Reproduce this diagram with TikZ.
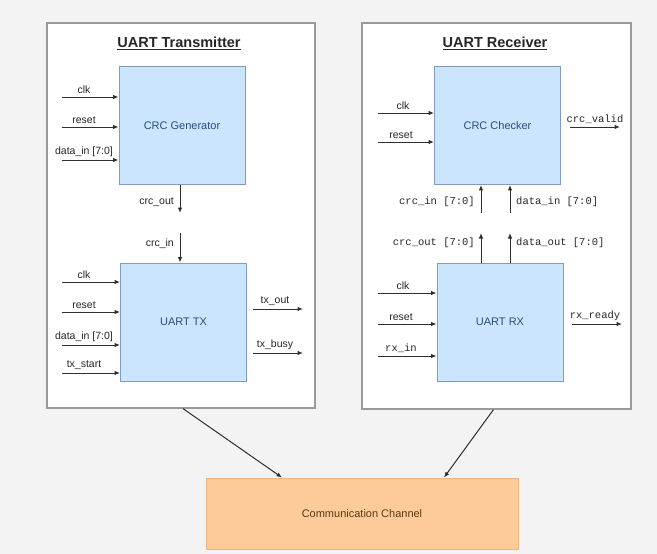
\documentclass[tikz,border=0pt]{standalone}
\usepackage{fontspec}
\setmainfont{Liberation Sans}
\setmonofont{Liberation Mono}
\usetikzlibrary{arrows.meta,calc}

\definecolor{bgcol}{HTML}{F3F3F3}
\definecolor{panelline}{HTML}{9A9A9A}
\definecolor{blockfill}{HTML}{CCE5FF}
\definecolor{blockline}{HTML}{7F9CC0}
\definecolor{blocktext}{HTML}{2B4C7E}
\definecolor{chanfill}{HTML}{FDCB9A}
\definecolor{chanline}{HTML}{E9B482}
\definecolor{chantext}{HTML}{5C3A12}
\definecolor{wire}{HTML}{2E2E2E}

\tikzset{
  panel/.style={rectangle, draw=panelline, line width=1.2pt, fill=white, inner sep=0pt},
  block/.style={rectangle, draw=blockline, line width=0.9pt, fill=blockfill, text=blocktext,
    font=\fontsize{11}{13}\selectfont, minimum width=126pt, minimum height=118pt, inner sep=0pt},
  chan/.style={rectangle, draw=chanline, line width=0.9pt, fill=chanfill, text=chantext,
    font=\fontsize{11}{13}\selectfont, minimum width=312pt, minimum height=71pt, inner sep=0pt},
  sig/.style={draw=wire, line width=1pt, -{Latex[length=5.5pt,width=4.5pt]}},
  lbl/.style={font=\fontsize{10.5}{12}\selectfont, text=black!85, inner sep=1pt},
  mlbl/.style={font=\ttfamily\fontsize{10.5}{12}\selectfont, text=black!85, inner sep=1pt},
  ptitle/.style={font=\bfseries\fontsize{14.5}{17}\selectfont, text=black!85},
}

\begin{document}
\begin{tikzpicture}[x=1pt,y=-1pt]
  % canvas
  \fill[bgcol] (0,0) rectangle (657,554);
  \useasboundingbox (0,0) rectangle (657,554);

  % ---------------- panels ----------------
  \node[panel, minimum width=268pt, minimum height=385pt] (lp) at (181,215.5) {};
  \node[panel, minimum width=269pt, minimum height=386pt] (rp) at (496.5,216) {};
  \node[ptitle] (lpt) at (179,43) {\underline{UART Transmitter}};
  \node[ptitle] (rpt) at (495,43) {\underline{UART Receiver}};

  % ---------------- transmitter ----------------
  \node[block] (gen) at (182,125.5) {CRC Generator};
  \node[block] (tx) at (183.5,322) {UART TX};

  % CRC generator inputs
  \coordinate (g1) at (62,97);
  \coordinate (g2) at (62,127);
  \coordinate (g3) at (62,160);
  \draw[sig] (g1) -- (g1 -| gen.west);
  \draw[sig] (g2) -- (g2 -| gen.west);
  \draw[sig] (g3) -- (g3 -| gen.west);
  \node[lbl, anchor=south] (g1l) at (84,95) {clk};
  \node[lbl, anchor=south] (g2l) at (84,125) {reset};
  \node[lbl, anchor=south] (g3l) at (84,158) {data\_in [7:0]};

  % CRC hand-over between generator and transmitter
  \coordinate (co) at (180,213);
  \coordinate (ci) at (180,233);
  \draw[sig] (co |- gen.south) -- (co);
  \draw[sig] (ci) -- (ci |- tx.north);
  \node[lbl, anchor=east] (col) at (175,202) {crc\_out};
  \node[lbl, anchor=east] (cil) at (175,244) {crc\_in};

  % UART TX inputs
  \coordinate (t1) at (62,282);
  \coordinate (t2) at (62,312);
  \coordinate (t3) at (62,345);
  \coordinate (t4) at (62,373);
  \draw[sig] (t1) -- (t1 -| tx.west);
  \draw[sig] (t2) -- (t2 -| tx.west);
  \draw[sig] (t3) -- (t3 -| tx.west);
  \draw[sig] (t4) -- (t4 -| tx.west);
  \node[lbl, anchor=south] (t1l) at (84,280) {clk};
  \node[lbl, anchor=south] (t2l) at (84,310) {reset};
  \node[lbl, anchor=south] (t3l) at (84,343) {data\_in [7:0]};
  \node[lbl, anchor=south] (t4l) at (84,371) {tx\_start};

  % UART TX outputs
  \coordinate (to1a) at (253,309);
  \coordinate (to1b) at (303,309);
  \coordinate (to2a) at (253,353);
  \coordinate (to2b) at (303,353);
  \draw[sig] (to1a) -- (to1b);
  \draw[sig] (to2a) -- (to2b);
  \node[lbl, anchor=south] (to1l) at (275,307) {tx\_out};
  \node[lbl, anchor=south] (to2l) at (275,351) {tx\_busy};

  % ---------------- receiver ----------------
  \node[block] (chk) at (497.5,125.5) {CRC Checker};
  \node[block] (rx) at (500,322) {UART RX};

  % CRC checker inputs
  \coordinate (c1) at (378,113);
  \coordinate (c2) at (378,142);
  \draw[sig] (c1) -- (c1 -| chk.west);
  \draw[sig] (c2) -- (c2 -| chk.west);
  \node[lbl, anchor=south] (c1l) at (403,111) {clk};
  \node[lbl, anchor=south] (c2l) at (401,140) {reset};

  % CRC checker output
  \coordinate (cva) at (570,127);
  \coordinate (cvb) at (620,127);
  \draw[sig] (cva) -- (cvb);
  \node[mlbl, anchor=south] (cvl) at (595,125) {crc\_valid};

  % buses between receiver and checker
  \coordinate (ri1) at (481,213);
  \coordinate (ri2) at (510,213);
  \coordinate (ro1) at (481,233);
  \coordinate (ro2) at (510,233);
  \draw[sig] (ri1) -- (ri1 |- chk.south);
  \draw[sig] (ri2) -- (ri2 |- chk.south);
  \draw[sig] (ro1 |- rx.north) -- (ro1);
  \draw[sig] (ro2 |- rx.north) -- (ro2);
  \node[mlbl, anchor=east] (ri1l) at (476,202) {crc\_in [7:0]};
  \node[mlbl, anchor=west] (ri2l) at (515,202) {data\_in [7:0]};
  \node[mlbl, anchor=east] (ro1l) at (476,243) {crc\_out [7:0]};
  \node[mlbl, anchor=west] (ro2l) at (515,243) {data\_out [7:0]};

  % UART RX inputs
  \coordinate (r1) at (378,293);
  \coordinate (r2) at (378,324);
  \coordinate (r3) at (378,356);
  \draw[sig] (r1) -- (r1 -| rx.west);
  \draw[sig] (r2) -- (r2 -| rx.west);
  \draw[sig] (r3) -- (r3 -| rx.west);
  \node[lbl, anchor=south] (r1l) at (403,291) {clk};
  \node[lbl, anchor=south] (r2l) at (401,322) {reset};
  \node[mlbl, anchor=south] (r3l) at (401,354) {rx\_in};

  % UART RX output
  \coordinate (rra) at (572,324);
  \coordinate (rrb) at (622,324);
  \draw[sig] (rra) -- (rrb);
  \node[mlbl, anchor=south] (rrl) at (595,322) {rx\_ready};

  % ---------------- channel ----------------
  \node[chan] (ch) at (362,513.5) {Communication Channel};
  \draw[sig] ($(lp.south)+(2,0)$) -- ($(ch.north)+(-80,0)$);
  \draw[sig] ($(rp.south)+(-3,0)$) -- ($(ch.north)+(82,0)$);
\end{tikzpicture}
\end{document}
